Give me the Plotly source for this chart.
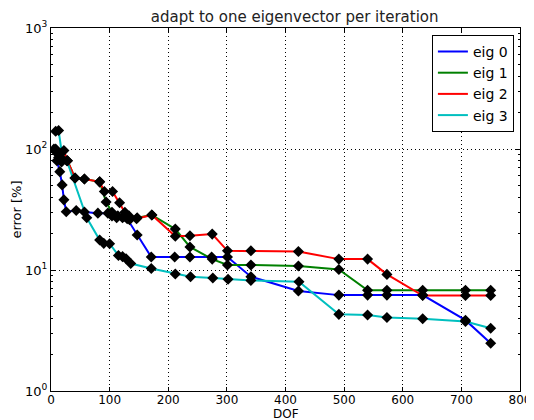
import plotly.graph_objects as go

title = "adapt to one eigenvector per iteration"
series_names = ["eig 0", "eig 1", "eig 2", "eig 3"]
series_colors = ["#0000ff", "#008000", "#ff0000", "#00bfbf"]

# eig 0
dof_0 = [5, 10, 15, 19, 22, 26, 43, 57, 80, 97, 104, 112, 122, 130, 147, 171, 211, 237, 274, 301, 341, 422, 491, 540, 573, 634, 707, 750]
err_0 = [100, 80, 65, 50.5, 38, 30.3, 31, 30.2, 29.5, 29.5, 28, 27, 27, 26.5, 19.5, 12.8, 12.8, 12.8, 12.8, 12.8, 8.8, 6.7, 6.2, 6.2, 6.2, 6.2, 3.85, 2.48]

# eig 1
dof_1 = [8, 13, 18, 28, 41, 57, 83, 94, 104, 114, 124, 134, 147, 172, 212, 237, 275, 301, 341, 422, 491, 540, 573, 634, 707, 750]
err_1 = [95, 85, 78, 80, 57.5, 56.5, 53.5, 36.5, 30, 28, 27.5, 26, 27, 28.5, 21.8, 15.5, 12.3, 11.0, 11.0, 10.8, 10.1, 6.8, 6.8, 6.8, 6.8, 6.8]

# eig 2
dof_2 = [8, 12, 16, 22, 28, 41, 57, 83, 91, 105, 117, 126, 133, 146, 172, 212, 237, 275, 301, 341, 422, 491, 540, 573, 634, 707, 750]
err_2 = [100, 91, 82, 97, 80, 57.5, 56.5, 53.5, 44.5, 44.5, 36, 30, 28, 26.5, 28.5, 19.0, 19.2, 19.8, 14.4, 14.4, 14.2, 12.3, 12.3, 9.2, 6.15, 6.15, 6.15]

# eig 3
dof_3 = [8, 13, 20, 27, 61, 83, 90, 100, 115, 122, 128, 136, 171, 212, 238, 276, 302, 341, 423, 491, 540, 573, 634, 707, 750]
err_3 = [140, 142, 82, 80, 27, 17.7, 16.6, 16.5, 13.2, 12.9, 12.4, 11.3, 10.3, 9.27, 8.8, 8.6, 8.4, 8.2, 8.0, 4.3, 4.25, 4.05, 3.95, 3.75, 3.3]

x_ticks = [0, 100, 200, 300, 400, 500, 600, 700, 800]
y_tickvals = [1, 10, 100, 1000]
y_ticktext = ["10<sup>0</sup>", "10<sup>1</sup>", "10<sup>2</sup>", "10<sup>3</sup>"]
x_label = "DOF"
y_label = "error [%]"

dofs = [dof_0, dof_1, dof_2, dof_3]
errs = [err_0, err_1, err_2, err_3]

fig = go.Figure()
for name, color, x, y in zip(series_names, series_colors, dofs, errs):
    fig.add_trace(go.Scatter(x=x, y=y, mode="lines", name=name,
                             line=dict(color=color, width=2)))
for name, x, y in zip(series_names, dofs, errs):
    fig.add_trace(go.Scatter(x=x, y=y, mode="markers", showlegend=False,
                             marker=dict(symbol="diamond", size=8.5, color="black",
                                         line=dict(width=0))))

font = "DejaVu Sans, Arial, sans-serif"
# page body has an 8px margin, so the figure is sized/offset to compensate
fig.update_layout(
    width=526, height=412,
    margin=dict(l=43, r=14, t=20, b=29),
    paper_bgcolor="white", plot_bgcolor="white",
    font=dict(family=font, size=13, color="black"),
    title=dict(text=title, x=0.545, xanchor="center", y=0.979, yanchor="middle",
               font=dict(size=15, color="#222")),
    showlegend=True,
    legend=dict(x=0.987, xanchor="right", y=0.981, yanchor="top",
                bordercolor="black", borderwidth=1, bgcolor="white",
                font=dict(size=14), tracegroupgap=0, itemwidth=30),
    annotations=[dict(text=x_label, xref="paper", yref="paper", x=0.5, y=-0.063,
                      xanchor="center", yanchor="middle", showarrow=False,
                      font=dict(size=12))],
)
fig.update_xaxes(
    range=[0, 800], tickvals=x_ticks, ticks="inside", ticklen=4,
    tickcolor="black", mirror="allticks", showline=True, linecolor="black",
    linewidth=1, showgrid=True, gridcolor="black", griddash="1px,3px", gridwidth=1,
    zeroline=False, automargin=False, ticklabelstandoff=-2,
    tickfont=dict(size=12),
)
fig.update_yaxes(
    type="log", range=[0, 3], tickvals=y_tickvals, ticktext=y_ticktext,
    ticks="inside", ticklen=4, tickcolor="black", mirror="allticks",
    showline=True, linecolor="black", linewidth=1, showgrid=True,
    gridcolor="black", griddash="1px,3px", gridwidth=1, zeroline=False,
    automargin=False,
    minor=dict(ticks="inside", ticklen=2, tickcolor="black", dtick="D1", showgrid=False),
    title=dict(text=y_label, standoff=0, font=dict(size=13)),
    tickfont=dict(size=13),
)

fig.write_html("out.html")
